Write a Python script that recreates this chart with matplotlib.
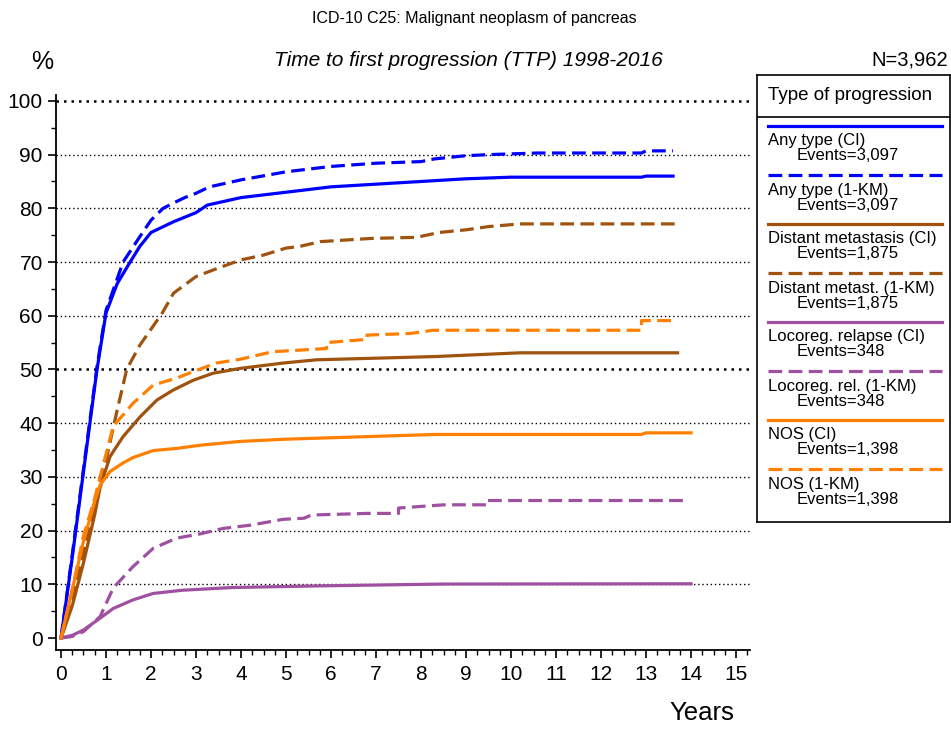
import numpy as np
import matplotlib
matplotlib.use('Agg')
import matplotlib.pyplot as plt

plt.rcParams['font.family'] = ['Liberation Sans', 'DejaVu Sans']

# Curves: years, percent
any_ci_t = [0, 0.25, 0.5, 0.8, 1.0, 1.25, 1.5, 1.75, 2.0, 2.5, 3.0, 3.25, 4.0, 5.0, 6.0, 7.0, 8.0, 9.0, 10.0, 12.9, 13.0, 13.6]
any_ci_v = [0, 15, 31, 50, 60.5, 66, 69.5, 72.9, 75.5, 77.5, 79.2, 80.6, 82, 83, 84, 84.5, 85, 85.5, 85.8, 85.8, 86, 86]

any_km_t = [0, 0.25, 0.5, 0.8, 1.0, 1.38, 1.75, 2.0, 2.27, 2.5, 2.75, 3.0, 3.3, 4.0, 5.0, 6.0, 7.0, 8.0, 8.3, 9.0, 9.5, 10.6, 12.9, 13.0, 13.6]
any_km_v = [0, 15.5, 31.5, 50.5, 61, 70, 74.7, 77.8, 80, 81, 82, 82.8, 84, 85.3, 86.8, 87.8, 88.4, 88.7, 89.2, 89.8, 90, 90.3, 90.3, 90.7, 90.7]

dm_ci_t = [0, 0.25, 0.5, 0.75, 0.87, 1.09, 1.38, 1.76, 2.13, 2.5, 2.94, 3.38, 3.98, 4.94, 5.68, 8.3, 10.2, 13.7]
dm_ci_v = [0, 6, 14, 23, 28.1, 33.8, 37.5, 41.2, 44.3, 46.2, 48, 49.3, 50.2, 51.2, 51.8, 52.4, 53.1, 53.1]

dm_km_t = [0, 0.25, 0.5, 0.75, 1.02, 1.25, 1.46, 1.75, 2.0, 2.25, 2.5, 3.0, 3.5, 4.0, 4.5, 5.0, 5.3, 5.76, 6.9, 7.9, 8.4, 9.0, 9.5, 10.2, 13.7]
dm_km_v = [0, 7, 16, 25, 33.8, 42.5, 50, 54.5, 57.5, 60.5, 64.2, 67.3, 68.9, 70.4, 71.3, 72.6, 72.9, 73.8, 74.4, 74.6, 75.5, 76, 76.6, 77.1, 77.1]

lr_ci_t = [0, 0.25, 0.5, 0.87, 1.16, 1.6, 2.05, 2.7, 3.8, 5.68, 8.5, 14.0]
lr_ci_v = [0, 0.5, 1.5, 3.7, 5.5, 7.1, 8.3, 8.9, 9.4, 9.7, 10.05, 10.1]

lr_km_t = [0, 0.25, 0.5, 0.87, 1.16, 1.6, 2.05, 2.57, 3.1, 3.6, 4.2, 4.94, 5.4, 5.56, 6.8, 7.5, 7.5, 8.5, 9.45, 9.45, 13.9]
lr_km_v = [0, 0.3, 1.2, 4, 9.3, 13.3, 16.7, 18.6, 19.4, 20.4, 21, 22.1, 22.3, 22.9, 23.2, 23.2, 24.2, 24.8, 24.8, 25.6, 25.6]

nos_ci_t = [0, 0.25, 0.5, 0.75, 0.87, 1.09, 1.38, 1.6, 2.05, 2.57, 3.1, 3.98, 4.94, 6.8, 8.3, 12.9, 13.0, 14.0]
nos_ci_v = [0, 9, 18, 25.5, 28.5, 31, 32.6, 33.6, 34.9, 35.3, 35.9, 36.6, 37, 37.5, 37.9, 37.9, 38.2, 38.2]

nos_km_t = [0, 0.25, 0.5, 0.75, 0.87, 1.16, 1.6, 2.05, 2.57, 2.94, 3.45, 3.98, 4.7, 5.9, 5.9, 6.8, 6.8, 7.76, 8.27, 12.9, 12.9, 13.6]
nos_km_v = [0, 9, 19, 26, 30, 39.4, 43.7, 47.1, 48.4, 49.6, 51.2, 51.9, 53.3, 53.9, 55, 55.6, 56.4, 56.7, 57.3, 57.3, 59.1, 59.1]

series = [
    ('Any type (CI)', 'Events=3,097', any_ci_t, any_ci_v, '#0000ff', '-'),
    ('Any type (1-KM)', 'Events=3,097', any_km_t, any_km_v, '#0000ff', '--'),
    ('Distant metastasis (CI)', 'Events=1,875', dm_ci_t, dm_ci_v, '#a0520f', '-'),
    ('Distant metast. (1-KM)', 'Events=1,875', dm_km_t, dm_km_v, '#a0520f', '--'),
    ('Locoreg. relapse (CI)', 'Events=348', lr_ci_t, lr_ci_v, '#a050a0', '-'),
    ('Locoreg. rel. (1-KM)', 'Events=348', lr_km_t, lr_km_v, '#a050a0', '--'),
    ('NOS (CI)', 'Events=1,398', nos_ci_t, nos_ci_v, '#ff8000', '-'),
    ('NOS (1-KM)', 'Events=1,398', nos_km_t, nos_km_v, '#ff8000', '--'),
]

W, H = 951, 729
fig = plt.figure(figsize=(W/100, H/100), dpi=100)

# main axes in pixel terms: left 56, right 750, top 95, bottom 650
ax = fig.add_axes([56/W, 1-650/H, (750-56)/W, (650-95)/H])
ax.set_xlim(-0.111, 15.31)
ax.set_ylim(-2.23, 101.1)

for yv in range(10, 101, 10):
    lw = 1.8 if yv in (50, 100) else 1.0
    ax.axhline(yv, color='black', lw=lw, ls=(0, (1, 2)), zorder=1)

for lab, ev, t, v, c, ls in series:
    if ls == '--':
        ax.plot(t, v, color=c, lw=2.3, dashes=(4.3, 2), zorder=3)
    else:
        ax.plot(t, v, color=c, lw=2.3, zorder=3)

ax.spines['top'].set_visible(False)
ax.spines['right'].set_visible(False)
ax.spines['left'].set_linewidth(1.3)
ax.spines['bottom'].set_linewidth(1.3)
ax.set_xticks(range(0, 16))
ax.set_xticks(np.arange(0, 15.3, 0.25), minor=True)
ax.set_yticks(range(0, 101, 10))
ax.set_yticks(range(5, 100, 10), minor=True)
ax.tick_params(axis='both', which='major', labelsize=15, length=6, width=1.2, direction='out')
ax.tick_params(axis='both', which='minor', length=3.5, width=1.0, direction='out')
ax.tick_params(axis='x', pad=5)

fig.text(474/W, 1-18/H, 'ICD-10 C25: Malignant neoplasm of pancreas', ha='center', va='center', fontsize=11.5)
fig.text(468/W, 1-60/H, 'Time to first progression (TTP) 1998-2016', ha='center', va='center',
         fontsize=15, style='italic')
fig.text(948/W, 1-60/H, 'N=3,962', ha='right', va='center', fontsize=14.5)
fig.text(42/W, 1-62/H, '%', ha='center', va='center', fontsize=18)
fig.text(702/W, 1-713/H, 'Years', ha='center', va='center', fontsize=18.5)

# legend box drawn by hand, coordinates in pixels inside the box
lg = fig.add_axes([757/W, 1-522/H, (950-757)/W, (522-75)/H])
lg.set_xlim(0, 193)
lg.set_ylim(447, 0)
lg.set_xticks([])
lg.set_yticks([])
for s in lg.spines.values():
    s.set_linewidth(1.2)
lg.text(11, 21, 'Type of progression', ha='left', va='center', fontsize=13.5)
lg.axhline(42, color='black', lw=1.2)
for i, (lab, ev, t, v, c, ls) in enumerate(series):
    y0 = 51 + 49*i
    if ls == '--':
        lg.plot([11, 185], [y0, y0], color=c, lw=2.3, dashes=(4.3, 2))
    else:
        lg.plot([11, 185], [y0, y0], color=c, lw=2.3)
    lg.text(11, y0 + 15, lab, ha='left', va='center', fontsize=12)
    lg.text(40, y0 + 30, ev, ha='left', va='center', fontsize=12)

fig.savefig('out.png', dpi=100)
